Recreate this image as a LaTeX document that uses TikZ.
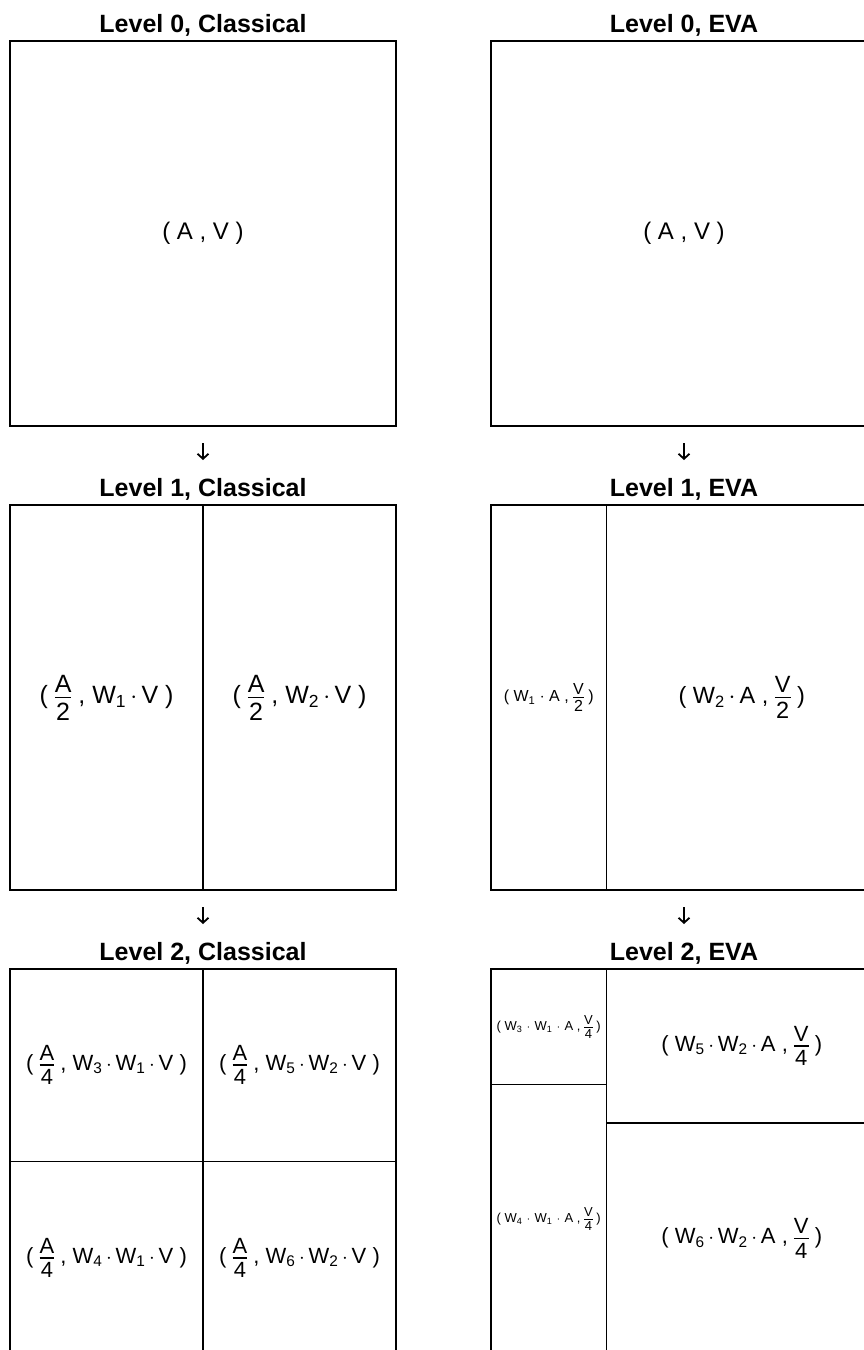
\documentclass[tikz,border=0pt]{standalone}
\usepackage{amsmath}
\usepackage{fontspec}
\setmainfont{Liberation Sans}
\usetikzlibrary{arrows.meta}
\newcommand\myfr[2]{\ensuremath{\vcenter{\offinterlineskip\halign{\hfil##\hfil\cr #1\cr\noalign{\kern0.18em\hrule height 0.06em\kern0.18em}#2\cr}}}}
\newcommand\Wd[1]{W\ensuremath{_{\text{#1}}}}
\def\dotsp{0.17em}
\newcommand\dt{\kern\dotsp\ensuremath{\cdot}\kern\dotsp}
\tikzset{
  panel/.style={draw=black, line width=1.2pt},
  ttl/.style={anchor=base, inner sep=0pt, font=\fontsize{25}{30}\selectfont\bfseries},
  labzero/.style={inner sep=0pt, font=\fontsize{24}{28}\selectfont},
  labcl/.style={inner sep=0pt, font=\fontsize{25}{29}\selectfont},
  labone/.style={inner sep=0pt, font=\fontsize{23.5}{28}\selectfont},
  lab/.style={inner sep=0pt, font=\fontsize{22}{26}\selectfont},
  labs/.style={inner sep=0pt, font={\fontsize{16}{19}\selectfont\def\dotsp{0.28em}}},
  labxs/.style={inner sep=0pt, font={\fontsize{13}{16}\selectfont\def\dotsp{0.34em}}},
  arr/.style={line width=1.8pt, -{Straight Barb[length=5pt,width=11pt]}}
}
\begin{document}
\begin{tikzpicture}[x=1pt,y=-1pt]
\clip (0,0) rectangle (864,1350);
\fill[white] (0,0) rectangle (864,1350);
% ---------- Level 0 ----------
\node[ttl] (t0c) at (203,32) {Level 0, Classical};
\node[ttl] (t0e) at (684,32) {Level 0, EVA};
\draw[panel] (10,41) rectangle (396,426);
\draw[panel] (491,41) rectangle (877,426);
\node[labzero] (l0c) at (203,233.5) {( A , V )};
\node[labzero] (l0e) at (684,233.5) {( A , V )};
\coordinate (a0cs) at (203,443);
\coordinate (a0ce) at (203,460);
\coordinate (a0es) at (684,443);
\coordinate (a0ee) at (684,460);
\draw[arr] (a0cs) -- (a0ce);
\draw[arr] (a0es) -- (a0ee);
% ---------- Level 1 ----------
\node[ttl] (t1c) at (203,496) {Level 1, Classical};
\node[ttl] (t1e) at (684,496) {Level 1, EVA};
\draw[panel] (10,505) rectangle (396,890);
\draw[panel] (203,505) -- (203,890);
\draw[panel] (491,505) rectangle (877,890);
\draw[panel] (606.5,505) -- (606.5,890);
\node[labcl] (l1c1) at (106.5,697.5) {( \myfr{A}{2} , \Wd{1}\dt V )};
\node[labcl] (l1c2) at (299.5,697.5) {( \myfr{A}{2} , \Wd{2}\dt V )};
\node[labs] (l1e1) at (548.75,697.5) {( \Wd{1}\dt A , \myfr{V}{2} )};
\node[labone] (l1e2) at (741.75,697.5) {( \Wd{2}\dt A , \myfr{V}{2} )};
\coordinate (a1cs) at (203,907);
\coordinate (a1ce) at (203,924);
\coordinate (a1es) at (684,907);
\coordinate (a1ee) at (684,924);
\draw[arr] (a1cs) -- (a1ce);
\draw[arr] (a1es) -- (a1ee);
% ---------- Level 2 ----------
\node[ttl] (t2c) at (203,960) {Level 2, Classical};
\node[ttl] (t2e) at (684,960) {Level 2, EVA};
\draw[panel] (10,969) rectangle (396,1354);
\draw[panel] (203,969) -- (203,1354);
\draw[panel] (10,1161.5) -- (396,1161.5);
\draw[panel] (491,969) rectangle (877,1354);
\draw[panel] (606.5,969) -- (606.5,1354);
\draw[panel] (491,1084.5) -- (606.5,1084.5);
\draw[panel] (606.5,1123) -- (877,1123);
\node[lab] (l2c1) at (106.5,1065) {( \myfr{A}{4} , \Wd{3}\dt\Wd{1}\dt V )};
\node[lab] (l2c2) at (299.5,1065) {( \myfr{A}{4} , \Wd{5}\dt\Wd{2}\dt V )};
\node[lab] (l2c3) at (106.5,1258) {( \myfr{A}{4} , \Wd{4}\dt\Wd{1}\dt V )};
\node[lab] (l2c4) at (299.5,1258) {( \myfr{A}{4} , \Wd{6}\dt\Wd{2}\dt V )};
\node[labxs] (l2e1) at (548.75,1027) {( \Wd{3}\dt\Wd{1}\dt A , \myfr{V}{4} )};
\node[labxs] (l2e2) at (548.75,1219) {( \Wd{4}\dt\Wd{1}\dt A , \myfr{V}{4} )};
\node[lab] (l2e3) at (741.75,1046) {( \Wd{5}\dt\Wd{2}\dt A , \myfr{V}{4} )};
\node[lab] (l2e4) at (741.75,1238.5) {( \Wd{6}\dt\Wd{2}\dt A , \myfr{V}{4} )};
\end{tikzpicture}
\end{document}
